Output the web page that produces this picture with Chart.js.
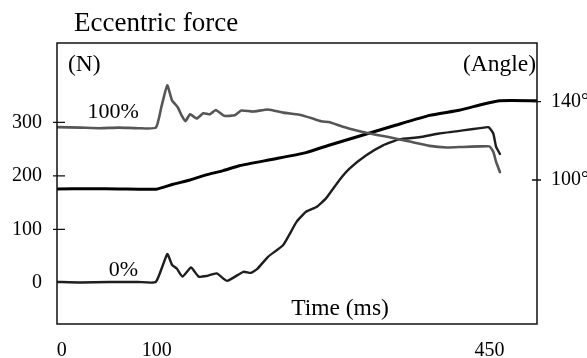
<!DOCTYPE html>
<html>
<head>
<meta charset="utf-8">
<script src="https://cdn.jsdelivr.net/npm/chart.js@4.4.1/dist/chart.umd.min.js"></script>
<style>
  html, body { margin: 0; padding: 0; background: #fff; }
  #wrap { width: 587px; height: 358px; }
</style>
</head>
<body>
<div id="wrap"><canvas id="chart"></canvas></div>
<script>
// force traces (N) against time (ms)
const time100 = [-5, 20, 40, 60, 80, 99, 105, 111, 116, 122, 126, 130, 135, 142, 149, 156, 162, 171, 182, 189, 201, 217, 233, 250, 264, 273, 282, 292, 303, 324, 345, 366, 387, 405, 422, 440, 450, 454, 457, 461];
const force100 = [291, 290, 289, 290, 289, 290, 330, 369, 341, 328, 313, 302, 315, 307, 317, 315, 323, 312, 313, 322, 320, 324, 318, 314, 307, 302, 300, 294, 288, 279, 272, 264, 256, 253, 254, 255, 255, 245, 226, 207];

const time0 = [-5, 20, 50, 80, 99, 111, 116, 121, 127, 136, 144, 152, 163, 174, 191, 199, 206, 217, 233, 247, 257, 268, 278, 292, 303, 320, 338, 355, 376, 397, 422, 440, 449, 454, 457, 461];
const force0 = [2, 1, 2, 2, 2, 54, 34, 27, 12, 29, 12, 13, 18, 4, 21, 19, 27, 49, 71, 114, 133, 142, 158, 192, 214, 238, 257, 268, 272, 279, 285, 289, 291, 279, 254, 241];

// joint angle (deg)
const timeAngle = [-5, 30, 60, 99.6, 117, 135, 152, 170, 187, 222, 257, 282, 317, 352, 387, 418, 443, 461, 500];
const angle = [95.4, 95.5, 95.4, 95.3, 97.8, 100, 102.6, 104.8, 107.3, 110.6, 114, 117.9, 123, 128.1, 133, 135.6, 138.7, 140.5, 140.5];

const timeTicks = [0, 100, 450];
const forceTicks = [0, 100, 200, 300];
const angleTicks = [100, 140];

const toPoints = (xs, ys) => xs.map((x, i) => ({ x: x, y: ys[i] }));

const serif = '"Liberation Serif", "DejaVu Serif", serif';

// frame, crossing tick marks and free text labels
const decorations = {
  id: 'decorations',
  afterDraw(chart) {
    const ctx = chart.ctx;
    const a = chart.chartArea;
    const yF = chart.scales.y;
    const yA = chart.scales.yAngle;
    const xS = chart.scales.x;
    ctx.save();
    ctx.strokeStyle = '#111';
    ctx.lineWidth = 1.5;
    ctx.strokeRect(a.left, a.top, a.right - a.left, a.bottom - a.top);

    ctx.lineWidth = 1.3;
    ctx.beginPath();
    forceTicks.filter(v => v > 0).forEach(v => {
      const py = yF.getPixelForValue(v);
      ctx.moveTo(a.left - 4, py);
      ctx.lineTo(a.left + 8, py);
    });
    angleTicks.forEach(v => {
      const py = yA.getPixelForValue(v);
      ctx.moveTo(a.right - 5, py);
      ctx.lineTo(a.right + 4, py);
    });
    ctx.stroke();

    ctx.fillStyle = '#000';
    ctx.textBaseline = 'middle';
    ctx.font = '22px ' + serif;
    ctx.textAlign = 'center';
    ctx.fillText('100%', xS.getPixelForValue(54), yF.getPixelForValue(319));
    ctx.fillText('0%', xS.getPixelForValue(65), yF.getPixelForValue(24));

    ctx.font = '23.5px ' + serif;
    ctx.textAlign = 'left';
    ctx.fillText('(N)', a.left + 11, a.top + 22);
    ctx.textAlign = 'right';
    ctx.fillText('(Angle)', a.right - 1, a.top + 22);
    ctx.textAlign = 'center';
    ctx.fillText('Time (ms)', 340, a.bottom - 15);

    ctx.font = '27px ' + serif;
    ctx.textAlign = 'left';
    ctx.fillText('Eccentric force', 74, 24);
    ctx.restore();
  }
};

new Chart(document.getElementById('chart'), {
  type: 'line',
  data: {
    datasets: [
      {
        label: '100%',
        data: toPoints(time100, force100),
        borderColor: '#565656',
        borderWidth: 2.6,
        yAxisID: 'y'
      },
      {
        label: '0%',
        data: toPoints(time0, force0),
        borderColor: '#1e1e1e',
        borderWidth: 2.4,
        yAxisID: 'y'
      },
      {
        label: 'Angle',
        data: toPoints(timeAngle, angle),
        borderColor: '#000',
        borderWidth: 3,
        yAxisID: 'yAngle'
      }
    ]
  },
  options: {
    responsive: true,
    maintainAspectRatio: false,
    animation: false,
    devicePixelRatio: 1,
    layout: { padding: { top: 43, right: 0, left: 0, bottom: 0 } },
    elements: {
      point: { radius: 0 },
      line: { tension: 0.15, borderCapStyle: 'round', borderJoinStyle: 'round' }
    },
    plugins: {
      legend: { display: false },
      tooltip: { enabled: false },
      title: { display: false }
    },
    scales: {
      x: {
        type: 'linear',
        min: -5,
        max: 500,
        afterBuildTicks: s => { s.ticks = timeTicks.map(v => ({ value: v })); },
        afterFit: s => { s.height = 34; },
        grid: { display: false, drawTicks: false },
        border: { display: false },
        ticks: {
          color: '#000',
          padding: 15,
          maxRotation: 0,
          autoSkip: false,
          font: { family: serif, size: 20 }
        }
      },
      y: {
        position: 'left',
        min: -76.5,
        max: 448,
        afterBuildTicks: s => { s.ticks = forceTicks.map(v => ({ value: v })); },
        afterFit: s => { s.width = 57; },
        grid: { display: false, drawTicks: false },
        border: { display: false },
        ticks: {
          color: '#000',
          padding: 15,
          font: { family: serif, size: 20 }
        }
      },
      yAngle: {
        position: 'right',
        min: 26.4,
        max: 170,
        afterBuildTicks: s => { s.ticks = angleTicks.map(v => ({ value: v })); },
        afterFit: s => { s.width = 50; },
        grid: { display: false, drawTicks: false },
        border: { display: false },
        ticks: {
          color: '#000',
          padding: 14,
          font: { family: serif, size: 20 },
          callback: v => v + '°'
        }
      }
    }
  },
  plugins: [decorations]
});
</script>
</body>
</html>
